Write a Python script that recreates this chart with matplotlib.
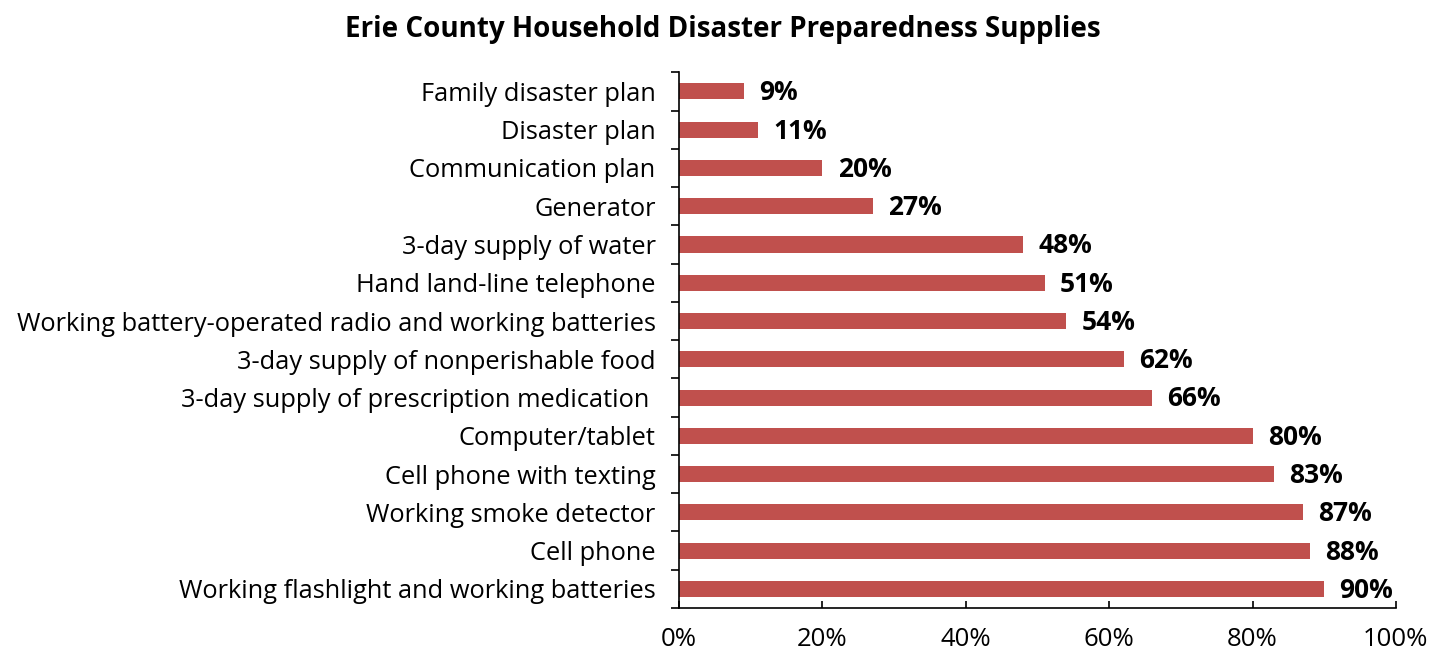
#
# Horizontal bar chart of household disaster preparedness supplies
#

import numpy as np
import matplotlib.pyplot as plt
from matplotlib.ticker import FuncFormatter

plt.rcParams['font.family'] = ['Open Sans', 'DejaVu Sans']

# Items listed top to bottom, with the share of households that have them
items = [
    "Family disaster plan",
    "Disaster plan",
    "Communication plan",
    "Generator",
    "3-day supply of water",
    "Hand land-line telephone",
    "Working battery-operated radio and working batteries",
    "3-day supply of nonperishable food",
    "3-day supply of prescription medication ",
    "Computer/tablet",
    "Cell phone with texting",
    "Working smoke detector",
    "Cell phone",
    "Working flashlight and working batteries",
]
percent = [9, 11, 20, 27, 48, 51, 54, 62, 66, 80, 83, 87, 88, 90]
xticks = [0, 20, 40, 60, 80, 100]

fig = plt.figure(figsize=(14.45, 6.51), dpi=100)
ax = fig.add_axes([0.47, 0.066, 0.496, 0.823])

y = np.arange(len(items))
ax.barh(y, percent, height=0.42, color="#C0504D")

for yi, p in zip(y, percent):
    ax.annotate(f"{p}%", (p, yi), xytext=(11, -1), textcoords="offset points",
                va="center", ha="left", fontsize=19, fontweight="bold")

ax.set_xlim(0, 100)
ax.set_ylim(len(items) - 0.5, -0.5)
ax.set_xticks(xticks)
ax.xaxis.set_major_formatter(FuncFormatter(lambda v, pos: f"{v:.0f}%"))
ax.tick_params(axis="x", direction="in", length=5, width=1.2, labelsize=18.5, pad=14)

# category labels sit between the boundary ticks
ax.set_yticks(np.arange(len(items) + 1) - 0.5)
ax.set_yticklabels([])
ax.set_yticks(y, minor=True)
ax.set_yticklabels(items, minor=True, fontsize=18.3)
ax.tick_params(axis="y", which="major", direction="out", length=6, width=1.2)
ax.tick_params(axis="y", which="minor", length=0, pad=17)

for side in ["top", "right"]:
    ax.spines[side].set_visible(False)
for side in ["left", "bottom"]:
    ax.spines[side].set_linewidth(1.2)

fig.suptitle("Erie County Household Disaster Preparedness Supplies",
             x=0.5, y=1 - 30 / 651, va="center", fontsize=20, fontweight="bold")

plt.savefig("out.png", dpi=100)
